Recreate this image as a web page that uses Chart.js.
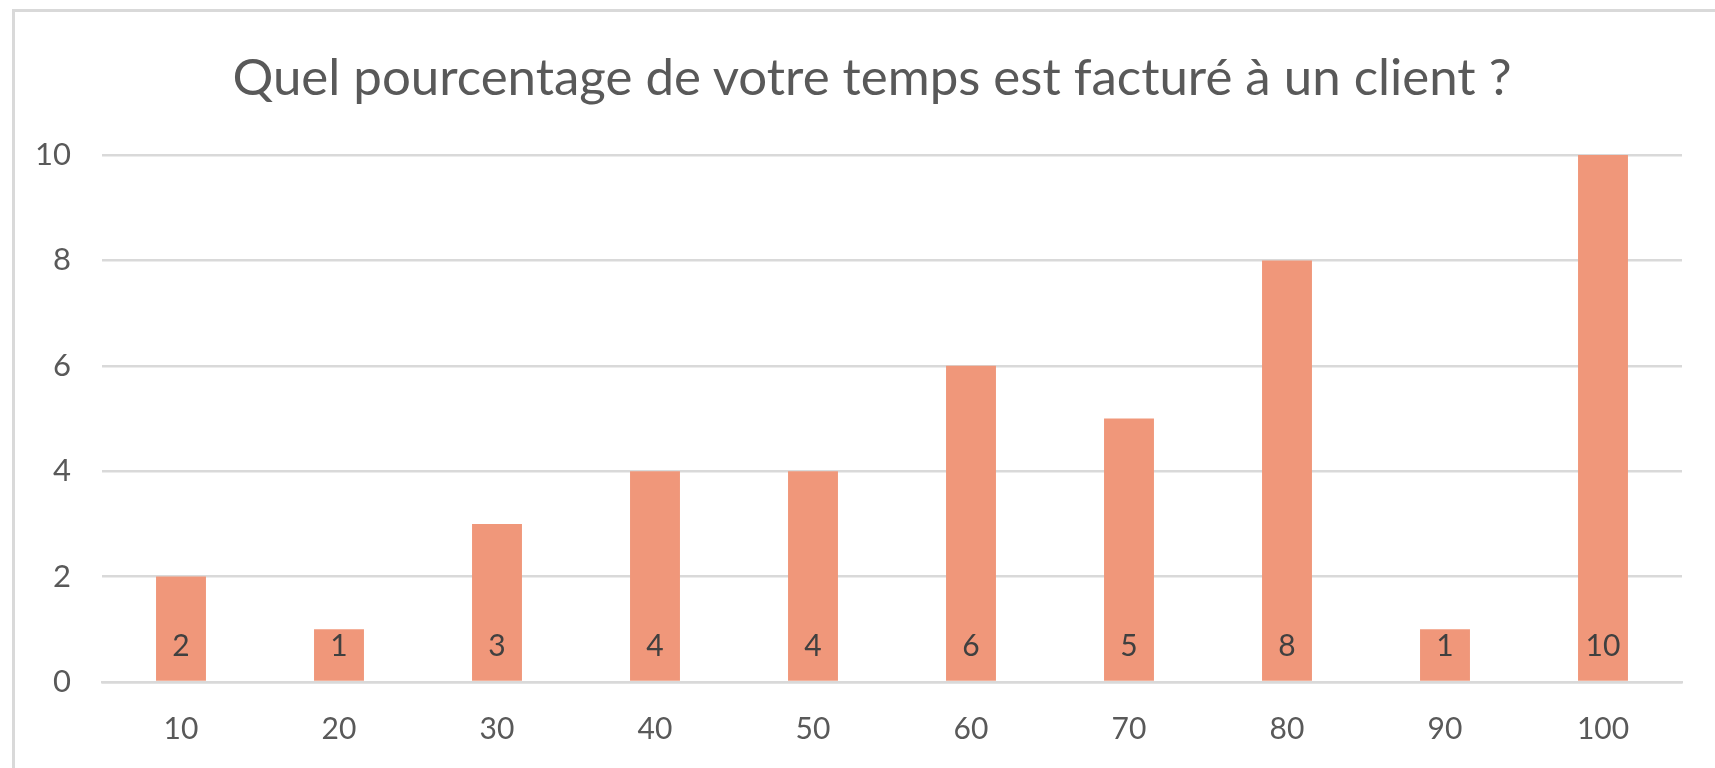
<!DOCTYPE html>
<html>
<head>
<meta charset="utf-8">
<script src="https://cdn.jsdelivr.net/npm/chart.js@4/dist/chart.umd.min.js"></script>
<style>
html,body{margin:0;padding:0;background:#fff;overflow:hidden;}
#frame{position:absolute;left:12px;top:9px;width:1703px;height:759px;border-left:3px solid #d9d9d9;border-top:3px solid #d9d9d9;}
#chart{position:absolute;left:0;top:0;}
#title{position:absolute;left:0;top:45px;width:1686px;padding-left:29px;text-align:center;
font-family:Lato,'Open Sans',sans-serif;font-size:51px;line-height:61px;color:#595959;white-space:nowrap;}
</style>
</head>
<body>
<div id="frame"></div>
<div id="title"></div>
<canvas id="chart" width="1715" height="768"></canvas>
<script>
/* DATA */
const categories=["10","20","30","40","50","60","70","80","90","100"];
const counts=[2,1,3,4,4,6,5,8,1,10];
const titleText="Quel pourcentage de votre temps est facturé à un client ?";

const FONT="Lato, 'Open Sans', sans-serif";

document.getElementById("title").textContent=titleText;

/* value labels near the bar base */
const baseLabels={
id:"baseLabels",
afterDatasetsDraw(chart){
const ctx=chart.ctx;
const meta=chart.getDatasetMeta(0);
const y0=chart.scales.y.getPixelForValue(0);
ctx.save();
ctx.font="30px "+FONT;
ctx.fillStyle="#404040";
ctx.textAlign="center";
ctx.textBaseline="middle";
meta.data.forEach((bar,i)=>{
ctx.fillText(String(counts[i]),bar.x,y0-36);
});
ctx.restore();
}
};

new Chart(document.getElementById("chart"),{
type:"bar",
data:{
labels:categories,
datasets:[{
data:counts,
backgroundColor:"#f0977a",
borderWidth:0,
categoryPercentage:0.8,
barPercentage:0.395
}]
},
options:{
responsive:false,
animation:false,
layout:{padding:{left:0,right:33,top:155,bottom:21}},
plugins:{
legend:{display:false},
tooltip:{enabled:false},
title:{display:false}
},
scales:{
x:{
afterFit(s){s.height=65;},
grid:{display:false,drawTicks:false},
border:{display:true,color:"#d9d9d9",width:2.5},
ticks:{color:"#595959",font:{family:FONT,size:30},padding:29}
},
y:{
min:0,max:10,
afterFit(s){s.width=102;},
grid:{color:"#d9d9d9",lineWidth:2.5,drawTicks:false},
border:{display:false},
ticks:{stepSize:2,color:"#595959",font:{family:FONT,size:31},padding:31}
}
}
},
plugins:[baseLabels]
});
</script>
</body>
</html>
